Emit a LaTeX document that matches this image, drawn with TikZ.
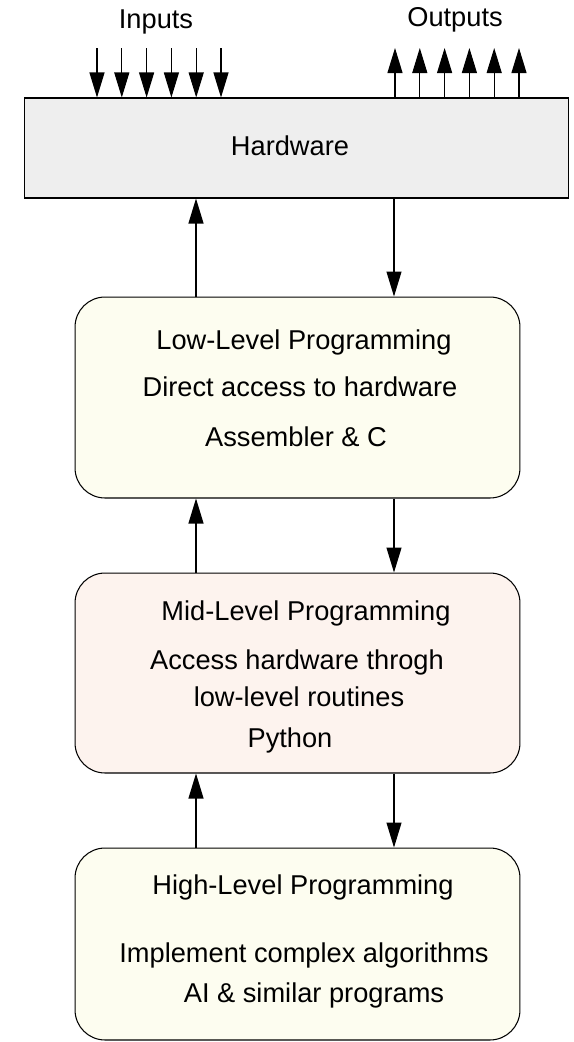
\documentclass[tikz,border=0pt]{standalone}
\usepackage{fontspec}
\setmainfont{Liberation Sans}
\usepackage{tikz}
\usetikzlibrary{arrows.meta, calc}
\tikzset{>={Triangle[length=5mm, width=3mm]}}
\definecolor{hwfill}{HTML}{EEEEEE}
\definecolor{lowfill}{HTML}{FDFDF0}
\definecolor{midfill}{HTML}{FDF3EE}
\tikzset{
  hwbox/.style={draw, fill=hwfill, minimum width=10.9cm, minimum height=2cm, line width=0.6pt},
  levelbox/.style={draw, rounded corners=0.6cm, minimum width=8.9cm, line width=0.6pt},
  lbl/.style={font=\fontsize{15.5}{18}\selectfont, inner sep=0pt},
  link/.style={->, line width=0.6pt}
}

\begin{document}
\begin{tikzpicture}[x=0.02cm, y=-0.02cm]
            \useasboundingbox (0,0) rectangle (574,1042);
            % boxes
            \node[hwbox] (hw) at (296.5,148) {};
            \node[levelbox, fill=lowfill, minimum height=4.02cm] (low) at (297.5,397.5) {};
            \node[levelbox, fill=midfill, minimum height=4cm] (mid) at (297.5,673) {};
            \node[levelbox, fill=lowfill, minimum height=3.84cm] (high) at (297.5,944) {};
            % texts
            \node[lbl] (inlbl) at (156,22) {Inputs};
            \node[lbl] (outlbl) at (455,20) {Outputs};
            \node[lbl] (hwlbl) at (290,146) {Hardware};
            \node[lbl] (low1) at (304,342) {Low-Level Programming};
            \node[lbl] (low2) at (300,387) {Direct access to hardware};
            \node[lbl] (low3) at (296,437) {Assembler \& C};
            \node[lbl] (mid1) at (306,613) {Mid-Level Programming};
            \node[lbl] (mid2) at (297,662) {Access hardware throgh};
            \node[lbl] (mid3) at (299,697) {low-level routines};
            \node[lbl] (mid4) at (290,740) {Python};
            \node[lbl] (high1) at (303,887) {High-Level Programming};
            \node[lbl] (high2) at (304,955) {Implement complex algorithms};
            \node[lbl] (high3) at (314,995) {AI \& similar programs};
            % inputs and outputs
            \foreach \i in {0,...,5} {
                \coordinate (in\i) at (97+24.8*\i,48);
                \coordinate (out\i) at (395+24.8*\i,48);
                \draw[link] (in\i) to (hw.north -| in\i);
                \draw[link] (hw.north -| out\i) to (out\i);
            }
            % links between levels
            \coordinate (up) at (196,0);
            \coordinate (down) at (394,0);
            \draw[link] (low.north -| up) to (hw.south -| up);
            \draw[link] (hw.south -| down) to (low.north -| down);
            \draw[link] (mid.north -| up) to (low.south -| up);
            \draw[link] (low.south -| down) to (mid.north -| down);
            \draw[link] (high.north -| up) to (mid.south -| up);
            \draw[link] (mid.south -| down) to (high.north -| down);
        \end{tikzpicture}
\end{document}
